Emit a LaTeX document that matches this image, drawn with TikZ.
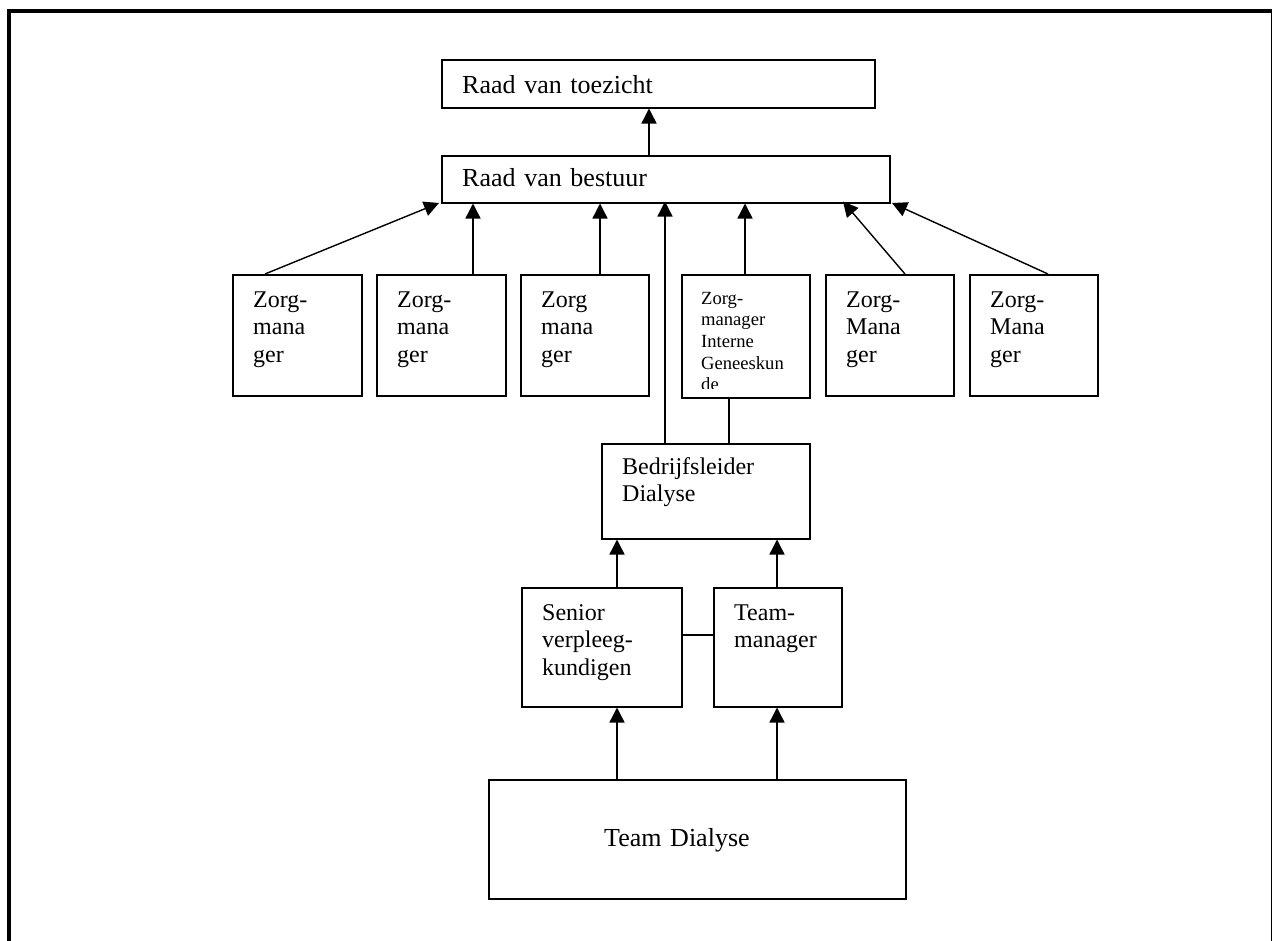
\documentclass[tikz,border=0pt]{standalone}
\usepackage{fontspec}
\setmainfont{Liberation Serif}
\usetikzlibrary{arrows.meta}
\tikzset{
  box/.style={draw, line width=1.5pt, anchor=north west, inner sep=0pt, minimum width=#1},
  lbl/.style={anchor=base west, inner sep=0pt, text width=#1, align=left},
  big/.style={font=\fontsize{26}{30}\selectfont},
  mid/.style={font=\fontsize{24}{27.7}\selectfont},
  sml/.style={font=\fontsize{18.6}{21.7}\selectfont},
  arr/.style={line width=1.4pt, -{Triangle[length=15pt,width=15pt]}},
  con/.style={line width=1.4pt},
}
\begin{document}
\begin{tikzpicture}[x=1pt,y=-1pt]
\useasboundingbox (0,0) rectangle (1272,940);
% outer frame
\draw[line width=3.4pt] (9,942) -- (9,11) -- (1272.5,11) -- (1272.5,942);

% boxes
\node[box=433pt, minimum height=48pt] (toe) at (441,59) {};
\node[box=448pt, minimum height=47pt] (bes) at (441,155) {};
\node[box=129pt, minimum height=121pt] (z1) at (232,274) {};
\node[box=129pt, minimum height=121pt] (z2) at (376,274) {};
\node[box=128pt, minimum height=121pt] (z3) at (520,274) {};
\node[box=128pt, minimum height=123pt] (z4) at (681,274) {};
\node[box=128pt, minimum height=121pt] (z5) at (825,274) {};
\node[box=128pt, minimum height=121pt] (z6) at (969,274) {};
\node[box=208pt, minimum height=95pt] (bl) at (601,443) {};
\node[box=160pt, minimum height=119pt] (sv) at (521,587) {};
\node[box=128pt, minimum height=119pt] (tm) at (713,587) {};
\node[box=417pt, minimum height=119pt] (td) at (488,779) {};

% labels
\node[lbl=400pt, big] (ttoe) at (462,93) {Raad van toezicht};
\node[lbl=400pt, big] (tbes) at (462,186) {Raad van bestuur};
\node[lbl=110pt, mid] (tz1) at (253,307) {Zorg-\\mana\\ger};
\node[lbl=110pt, mid] (tz2) at (397,307) {Zorg-\\mana\\ger};
\node[lbl=110pt, mid] (tz3) at (541,307) {Zorg\\mana\\ger};
\begin{scope}
\clip (681,274) rectangle (809,388);
\node[lbl=110pt, sml] (tz4) at (701,304) {Zorg-\\manager\\Interne\\Geneeskun\\de};
\end{scope}
\node[lbl=110pt, mid] (tz5) at (846,307) {Zorg-\\Mana\\ger};
\node[lbl=110pt, mid] (tz6) at (990,307) {Zorg-\\Mana\\ger};
\node[lbl=180pt, mid] (tbl) at (622,474) {Bedrijfsleider\\Dialyse};
\node[lbl=140pt, mid] (tsv) at (542,620) {Senior\\verpleeg-\\kundigen};
\node[lbl=110pt, mid] (ttm) at (734,620) {Team-\\manager};
\node[lbl=300pt, big] (ttd) at (604,846) {Team Dialyse};

% column / row helper coordinates
\coordinate (c265) at (265,0);
\coordinate (c473) at (473,0);
\coordinate (c600) at (600,0);
\coordinate (c617) at (617,0);
\coordinate (c649) at (649,0);
\coordinate (c665) at (665,0);
\coordinate (c729) at (729,0);
\coordinate (c745) at (745,0);
\coordinate (c777) at (777,0);
\coordinate (c843) at (843,0);
\coordinate (c905) at (905,0);
\coordinate (c1048) at (1048,0);
\coordinate (r635) at (0,635);
\coordinate (t1) at (439,203);
\coordinate (t6) at (892,203);

% connectors
\draw[arr] (bes.north -| c649) -- (toe.south -| c649);
\draw[arr] (z1.north -| c265) -- (t1);
\draw[arr] (z2.north -| c473) -- (bes.south -| c473);
\draw[arr] (z3.north -| c600) -- (bes.south -| c600);
\draw[arr] (bl.north -| c665) -- ([yshift=2pt]bes.south -| c665);
\draw[arr] (z4.north -| c745) -- (bes.south -| c745);
\draw[arr] (z5.north -| c905) -- ([yshift=2pt]bes.south -| c843);
\draw[arr] (z6.north -| c1048) -- (t6);
\draw[con] (bl.north -| c729) -- (z4.south -| c729);
\draw[arr] (sv.north -| c617) -- (bl.south -| c617);
\draw[arr] (tm.north -| c777) -- (bl.south -| c777);
\draw[con] (sv.east |- r635) -- (tm.west |- r635);
\draw[arr] (td.north -| c617) -- (sv.south -| c617);
\draw[arr] (td.north -| c777) -- (tm.south -| c777);
\end{tikzpicture}
\end{document}
